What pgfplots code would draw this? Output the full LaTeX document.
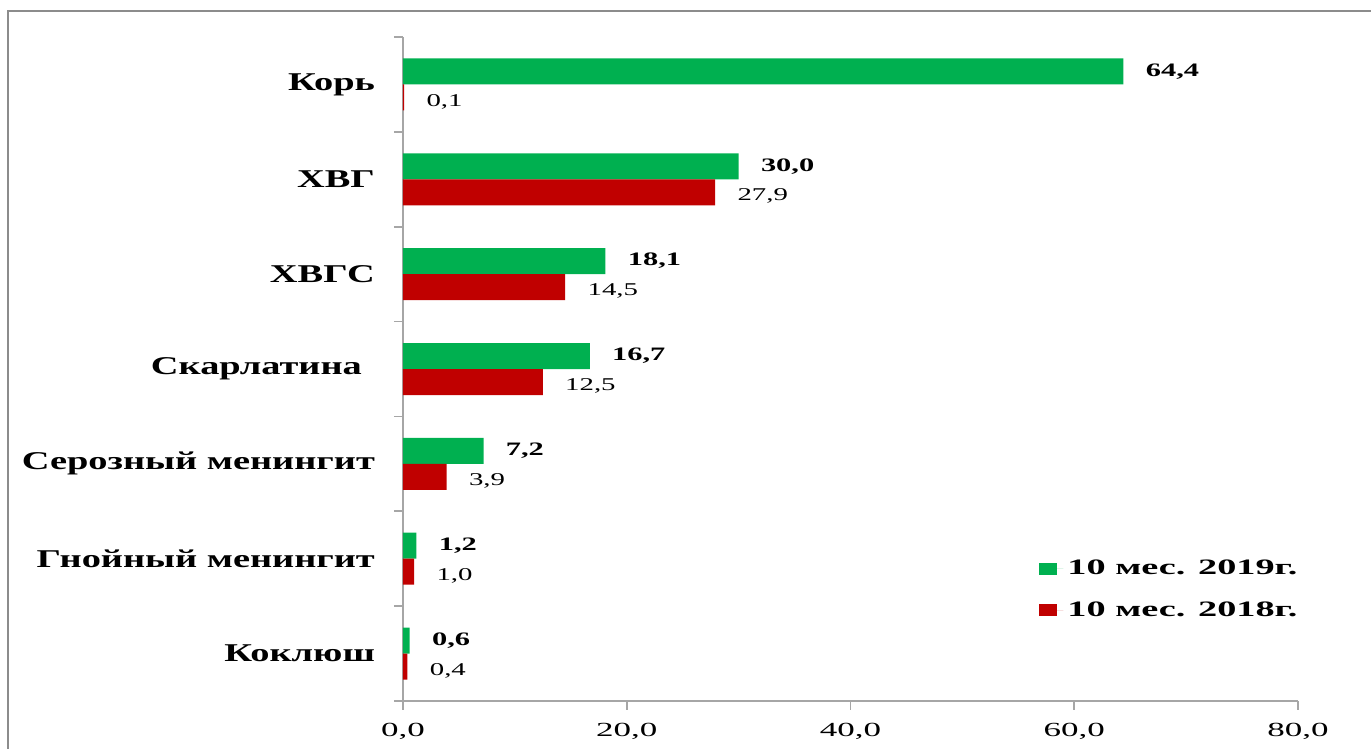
\documentclass[border=0pt]{standalone}
\usepackage{pgfplots}
\pgfplotsset{compat=1.18}
\usepackage{fontspec}
\setmainfont[FakeStretch=1.6]{Liberation Serif}
\newfontfamily\catfont[FakeStretch=1.5]{Liberation Serif}
\newfontfamily\tickfont[FakeStretch=1.75]{Liberation Serif}
\newfontfamily\legfont[FakeStretch=1.74]{Liberation Serif}
\definecolor{g}{HTML}{00B050}
\definecolor{r}{HTML}{C00000}
\definecolor{axgray}{HTML}{A6A6A6}
\definecolor{framegray}{HTML}{8C8C8C}
\begin{document}
\begin{tikzpicture}[x=1pt,y=1pt]
\useasboundingbox (0,0) rectangle (685.5,374.5);
\draw[framegray, line width=1.2pt] (4,-2) -- (4,369) -- (690,369);
\begin{axis}[
  at={(201.5pt,24pt)}, anchor=south west,
  scale only axis, width=447.5pt, height=332pt,
  xbar, bar width=13pt,
  xmin=0, xmax=80, ymin=-0.5, ymax=6.5,
  axis x line*=bottom, axis y line*=left,
  axis line style={draw=axgray, line width=0.8pt, -},
  every tick/.style={draw=axgray, line width=0.8pt},
  tick align=outside, major tick length=4.5pt,
  /pgf/number format/assume math mode=true,
  xtick={0,20,40,60,80},
  xticklabel={\pgfmathprintnumber[fixed,fixed zerofill,precision=1,use comma]{\tick}},
  xticklabel style={font=\tickfont\fontsize{10}{12}\selectfont, yshift=-3pt},
  ytick={-0.5,0.5,1.5,2.5,3.5,4.5,5.5,6.5},
  yticklabels={Коклюш, Гнойный менингит, Серозный менингит, Скарлатина\kern6.5pt, ХВГС, ХВГ, Корь, {}},
  yticklabel style={yshift=23.7pt, font=\catfont\bfseries\fontsize{12.8}{15}\selectfont, xshift=-6pt},
  legend style={draw=none, fill=none, at={(0.704,0.225)}, anchor=north west,
    font=\legfont\bfseries\fontsize{11}{13}\selectfont, row sep=8pt},
  legend image code/.code={\fill[#1] (0pt,-3pt) rectangle (9pt,3pt); \path (0pt,0pt) -- (12pt,0pt);},
  legend cell align=left,
]
\addplot[fill=g, draw=none, bar shift=6.5pt,
  nodes near coords={\bfseries\pgfmathprintnumber[fixed,fixed zerofill,precision=1,use comma]{\pgfplotspointmeta}},
  nodes near coords style={anchor=west, inner sep=0pt, xshift=11pt, font=\fontsize{9.5}{11}\selectfont, text=black}]
  coordinates {(64.4,6) (30.0,5) (18.1,4) (16.7,3) (7.2,2) (1.2,1) (0.6,0)};
\addplot[fill=r, draw=none, bar shift=-6.5pt,
  nodes near coords={\pgfmathprintnumber[fixed,fixed zerofill,precision=1,use comma]{\pgfplotspointmeta}},
  nodes near coords style={anchor=west, inner sep=0pt, xshift=11pt, yshift=-2pt, font=\fontsize{9}{11}\selectfont, text=black}]
  coordinates {(0.1,6) (27.9,5) (14.5,4) (12.5,3) (3.9,2) (1.0,1) (0.4,0)};
\legend{10 мес. 2019г., 10 мес. 2018г.}
\end{axis}
\end{tikzpicture}
\end{document}
